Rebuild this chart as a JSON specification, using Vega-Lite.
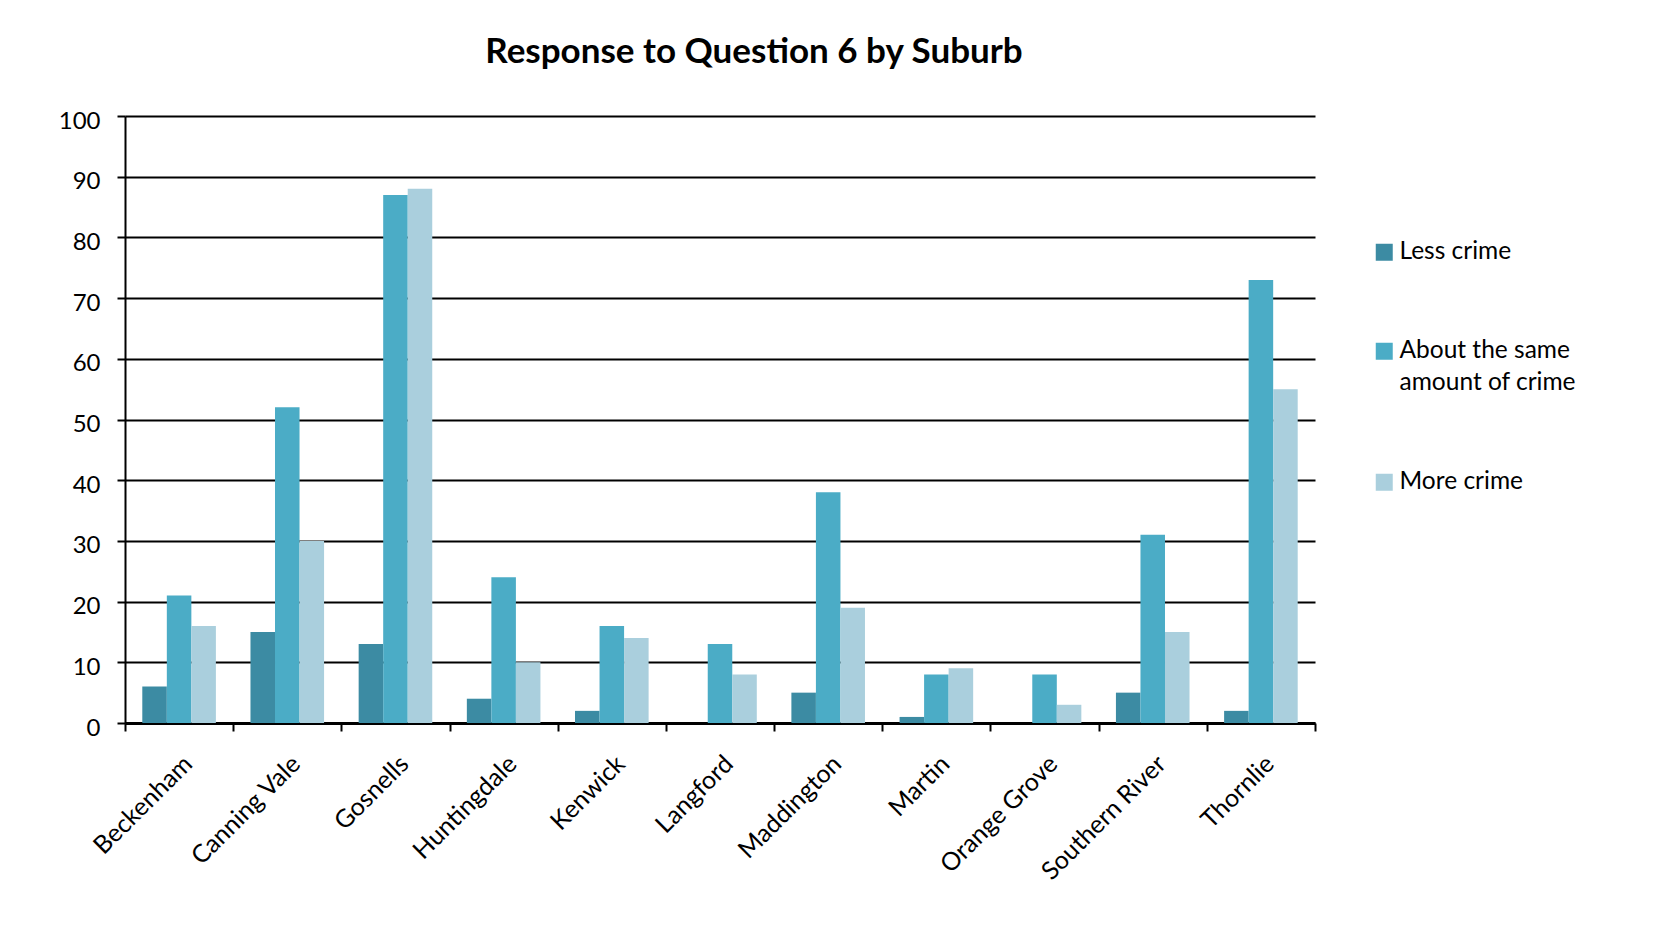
{
  "$schema": "https://vega.github.io/schema/vega-lite/v6.json",
  "width": 1190,
  "height": 607,
  "autosize": {"type": "none"},
  "padding": {"left": 125, "top": 116, "right": 355, "bottom": 219},
  "background": "white",
  "title": {"text": "Response to Question 6 by Suburb", "font": "Lato", "fontSize": 35, "fontWeight": "bold", "color": "#000000", "anchor": "middle", "dx": 34, "offset": 39},
  "data": {"values": [
    {"suburb": "Beckenham", "response": "Less crime", "value": 6},
    {"suburb": "Beckenham", "response": "About the same amount of crime", "value": 21},
    {"suburb": "Beckenham", "response": "More crime", "value": 16},
    {"suburb": "Canning Vale", "response": "Less crime", "value": 15},
    {"suburb": "Canning Vale", "response": "About the same amount of crime", "value": 52},
    {"suburb": "Canning Vale", "response": "More crime", "value": 30},
    {"suburb": "Gosnells", "response": "Less crime", "value": 13},
    {"suburb": "Gosnells", "response": "About the same amount of crime", "value": 87},
    {"suburb": "Gosnells", "response": "More crime", "value": 88},
    {"suburb": "Huntingdale", "response": "Less crime", "value": 4},
    {"suburb": "Huntingdale", "response": "About the same amount of crime", "value": 24},
    {"suburb": "Huntingdale", "response": "More crime", "value": 10},
    {"suburb": "Kenwick", "response": "Less crime", "value": 2},
    {"suburb": "Kenwick", "response": "About the same amount of crime", "value": 16},
    {"suburb": "Kenwick", "response": "More crime", "value": 14},
    {"suburb": "Langford", "response": "Less crime", "value": 0},
    {"suburb": "Langford", "response": "About the same amount of crime", "value": 13},
    {"suburb": "Langford", "response": "More crime", "value": 8},
    {"suburb": "Maddington", "response": "Less crime", "value": 5},
    {"suburb": "Maddington", "response": "About the same amount of crime", "value": 38},
    {"suburb": "Maddington", "response": "More crime", "value": 19},
    {"suburb": "Martin", "response": "Less crime", "value": 1},
    {"suburb": "Martin", "response": "About the same amount of crime", "value": 8},
    {"suburb": "Martin", "response": "More crime", "value": 9},
    {"suburb": "Orange Grove", "response": "Less crime", "value": 0},
    {"suburb": "Orange Grove", "response": "About the same amount of crime", "value": 8},
    {"suburb": "Orange Grove", "response": "More crime", "value": 3},
    {"suburb": "Southern River", "response": "Less crime", "value": 5},
    {"suburb": "Southern River", "response": "About the same amount of crime", "value": 31},
    {"suburb": "Southern River", "response": "More crime", "value": 15},
    {"suburb": "Thornlie", "response": "Less crime", "value": 2},
    {"suburb": "Thornlie", "response": "About the same amount of crime", "value": 73},
    {"suburb": "Thornlie", "response": "More crime", "value": 55}
  ]},
  "mark": {"type": "bar"},
  "encoding": {
    "x": {
      "field": "suburb", "type": "nominal", "sort": null, "title": null,
      "scale": {"paddingInner": 0, "paddingOuter": 0},
      "axis": {"tickBand": "extent", "labelAngle": -45, "labelFont": "Lato", "labelFontSize": 25, "labelColor": "#000000", "labelPadding": 20, "labelOffset": 0, "tickColor": "#000000", "tickSize": 8, "tickWidth": 2, "domainColor": "#000000", "domainWidth": 3, "grid": false}
    },
    "xOffset": {
      "field": "response", "type": "nominal",
      "sort": ["Less crime", "About the same amount of crime", "More crime"],
      "scale": {"paddingInner": 0, "paddingOuter": 0.705}
    },
    "y": {
      "field": "value", "type": "quantitative", "title": null,
      "scale": {"domain": [0, 100], "nice": false},
      "axis": {"values": [0, 10, 20, 30, 40, 50, 60, 70, 80, 90, 100], "labelFont": "Lato", "labelFontSize": 24, "labelColor": "#000000", "labelPadding": 17, "labelOffset": 5, "tickColor": "#000000", "tickSize": 8, "tickWidth": 2, "domainColor": "#000000", "domainWidth": 2, "grid": true, "gridColor": "#000000", "gridWidth": 2, "gridOpacity": 1}
    },
    "color": {
      "field": "response", "type": "nominal",
      "sort": ["Less crime", "About the same amount of crime", "More crime"],
      "scale": {"domain": ["Less crime", "About the same amount of crime", "More crime"], "range": ["#3C8BA3", "#4BACC6", "#AACFDD"]},
      "legend": {"orient": "none", "legendX": 1247, "legendY": 124, "title": null, "symbolType": "square", "symbolSize": 289, "symbolStrokeWidth": 0, "labelFont": "Lato", "labelFontSize": 24.5, "labelColor": "#000000", "labelLimit": 400, "labelOffset": 3, "rowPadding": 74,
        "labelExpr": "datum.label == 'About the same amount of crime' ? ['About the same', 'amount of crime'] : datum.label",
        "encode": {"labels": {"update": {"lineHeight": {"value": 32}}}}}
    }
  },
  "config": {"view": {"stroke": null}}
}
